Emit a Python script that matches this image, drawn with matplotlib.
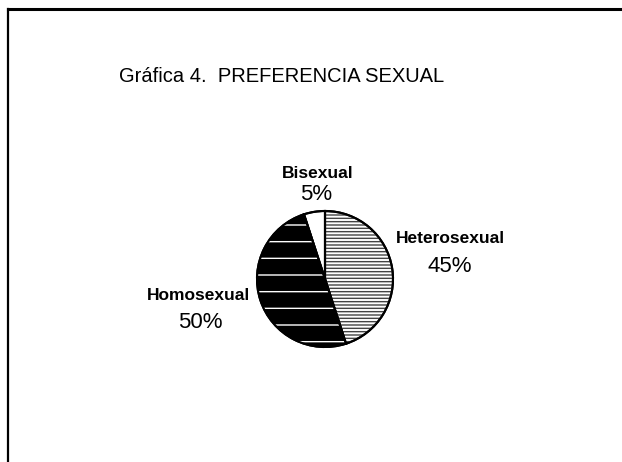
import matplotlib
matplotlib.use("Agg")
import matplotlib.pyplot as plt

plt.rcParams['font.family'] = ['Liberation Sans', 'DejaVu Sans']
plt.rcParams['hatch.linewidth'] = 1.0

categories = ["Heterosexual", "Homosexual", "Bisexual"]
values = [45, 50, 5]
pct_labels = ["45%", "50%", "5%"]
title = "Gráfica 4.  PREFERENCIA SEXUAL"

W, H = 622, 462
fig = plt.figure(figsize=(W / 100, H / 100), dpi=100)
fig.patch.set_facecolor("white")

def px(x, y):
    return x / W, 1 - y / H

# border (top and left)
fig.add_artist(plt.Line2D([8 / W, 1], [1 - 9 / H, 1 - 9 / H], color="black", lw=2.2, transform=fig.transFigure))
fig.add_artist(plt.Line2D([8 / W, 8 / W], [0, 1 - 9 / H], color="black", lw=1.6, transform=fig.transFigure))

cx, cy, r = 325, 279, 68
ax = fig.add_axes([(cx - r) / W, (H - cy - r) / H, 2 * r / W, 2 * r / H])
face = ["#ffffff", "#000000", "#ffffff"]
wedges, _ = ax.pie(values, startangle=90, counterclock=False, colors=face,
                   wedgeprops=dict(edgecolor="black", linewidth=1.5))
hatches = ["-----", "-", ""]
hcol = ["#444444", "#ffffff", "#ffffff"]
w2, _ = ax.pie(values, startangle=90, counterclock=False,
               colors=["none"] * 3,
               wedgeprops=dict(linewidth=0))
for w, h, c in zip(w2, hatches, hcol):
    w.set_hatch(h)
    w.set_edgecolor(c)
    w.set_facecolor("none")
# redraw outline on top
w3, _ = ax.pie(values, startangle=90, counterclock=False, colors=["none"] * 3,
               wedgeprops=dict(edgecolor="black", linewidth=1.5, fill=False))
ax.set_xlim(-1, 1)
ax.set_ylim(-1, 1)
ax.set_aspect("auto")
ax.axis("off")

fig.text(*px(282, 76), title, ha="center", va="center", fontsize=14.5)

label_pos = {"Heterosexual": ((450, 239), (450, 266)),
             "Homosexual": ((199, 295), (200, 323)),
             "Bisexual": ((318, 174), (316, 195))}
for cat, pl in zip(categories, pct_labels):
    (lx, ly), (qx, qy) = label_pos[cat]
    fig.text(*px(lx, ly), cat, ha="center", va="center", fontsize=12.5, fontweight="bold")
    fig.text(*px(qx, qy), pl, ha="center", va="center", fontsize=16)

fig.savefig("out.png", dpi=100, facecolor="white")
